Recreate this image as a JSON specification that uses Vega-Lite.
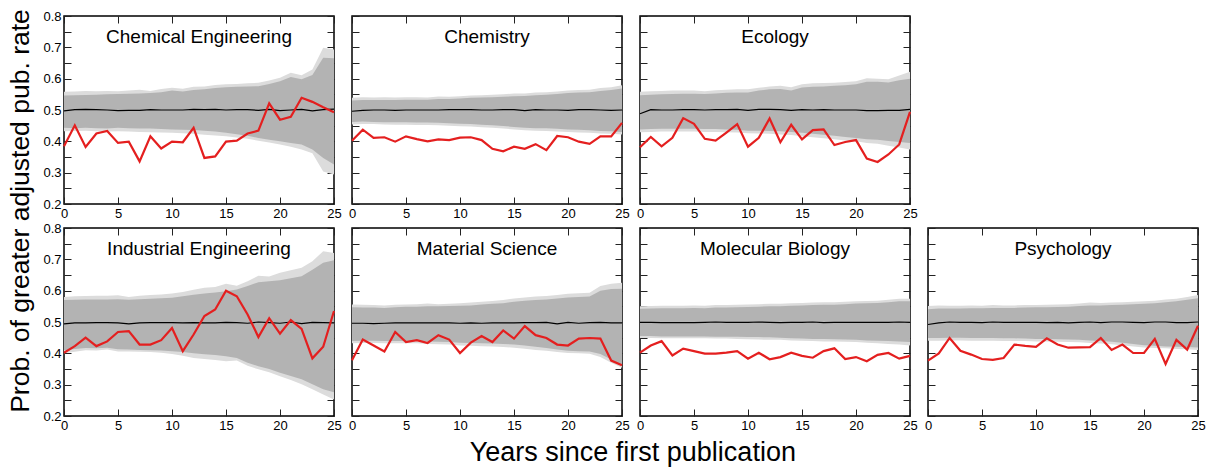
{
"$schema": "https://vega.github.io/schema/vega-lite/v6.json",
"padding": {"left": 7, "top": 9, "right": 5, "bottom": 5},
"data": {"name": "d"},
"datasets": {"d": [
{"field":"CE","year":0,"obs":0.384,"mean":0.497,"lo2":0.432,"lo1":0.443,"hi1":0.546,"hi2":0.558},
{"field":"CE","year":1,"obs":0.451,"mean":0.501,"lo2":0.433,"lo1":0.442,"hi1":0.547,"hi2":0.559},
{"field":"CE","year":2,"obs":0.382,"mean":0.502,"lo2":0.434,"lo1":0.443,"hi1":0.548,"hi2":0.561},
{"field":"CE","year":3,"obs":0.425,"mean":0.501,"lo2":0.432,"lo1":0.442,"hi1":0.549,"hi2":0.560},
{"field":"CE","year":4,"obs":0.433,"mean":0.500,"lo2":0.431,"lo1":0.441,"hi1":0.550,"hi2":0.561},
{"field":"CE","year":5,"obs":0.395,"mean":0.498,"lo2":0.432,"lo1":0.443,"hi1":0.551,"hi2":0.560},
{"field":"CE","year":6,"obs":0.399,"mean":0.499,"lo2":0.431,"lo1":0.442,"hi1":0.552,"hi2":0.562},
{"field":"CE","year":7,"obs":0.336,"mean":0.499,"lo2":0.430,"lo1":0.441,"hi1":0.553,"hi2":0.565},
{"field":"CE","year":8,"obs":0.416,"mean":0.501,"lo2":0.429,"lo1":0.441,"hi1":0.554,"hi2":0.561},
{"field":"CE","year":9,"obs":0.377,"mean":0.500,"lo2":0.428,"lo1":0.439,"hi1":0.557,"hi2":0.567},
{"field":"CE","year":10,"obs":0.399,"mean":0.500,"lo2":0.427,"lo1":0.438,"hi1":0.562,"hi2":0.571},
{"field":"CE","year":11,"obs":0.397,"mean":0.500,"lo2":0.426,"lo1":0.437,"hi1":0.559,"hi2":0.568},
{"field":"CE","year":12,"obs":0.443,"mean":0.502,"lo2":0.424,"lo1":0.436,"hi1":0.564,"hi2":0.574},
{"field":"CE","year":13,"obs":0.347,"mean":0.501,"lo2":0.421,"lo1":0.434,"hi1":0.566,"hi2":0.575},
{"field":"CE","year":14,"obs":0.352,"mean":0.502,"lo2":0.419,"lo1":0.431,"hi1":0.570,"hi2":0.580},
{"field":"CE","year":15,"obs":0.399,"mean":0.500,"lo2":0.416,"lo1":0.427,"hi1":0.573,"hi2":0.582},
{"field":"CE","year":16,"obs":0.402,"mean":0.501,"lo2":0.412,"lo1":0.423,"hi1":0.574,"hi2":0.583},
{"field":"CE","year":17,"obs":0.425,"mean":0.501,"lo2":0.408,"lo1":0.418,"hi1":0.575,"hi2":0.585},
{"field":"CE","year":18,"obs":0.434,"mean":0.499,"lo2":0.402,"lo1":0.411,"hi1":0.576,"hi2":0.587},
{"field":"CE","year":19,"obs":0.521,"mean":0.502,"lo2":0.396,"lo1":0.405,"hi1":0.583,"hi2":0.594},
{"field":"CE","year":20,"obs":0.469,"mean":0.498,"lo2":0.390,"lo1":0.400,"hi1":0.592,"hi2":0.603},
{"field":"CE","year":21,"obs":0.478,"mean":0.500,"lo2":0.383,"lo1":0.395,"hi1":0.605,"hi2":0.619},
{"field":"CE","year":22,"obs":0.539,"mean":0.502,"lo2":0.374,"lo1":0.390,"hi1":0.598,"hi2":0.611},
{"field":"CE","year":23,"obs":0.526,"mean":0.497,"lo2":0.362,"lo1":0.374,"hi1":0.612,"hi2":0.629},
{"field":"CE","year":24,"obs":0.509,"mean":0.501,"lo2":0.304,"lo1":0.347,"hi1":0.667,"hi2":0.699},
{"field":"CE","year":25,"obs":0.493,"mean":0.503,"lo2":0.294,"lo1":0.326,"hi1":0.665,"hi2":0.693},
{"field":"CH","year":0,"obs":0.402,"mean":0.496,"lo2":0.454,"lo1":0.462,"hi1":0.530,"hi2":0.539},
{"field":"CH","year":1,"obs":0.437,"mean":0.499,"lo2":0.455,"lo1":0.463,"hi1":0.532,"hi2":0.541},
{"field":"CH","year":2,"obs":0.411,"mean":0.500,"lo2":0.455,"lo1":0.462,"hi1":0.532,"hi2":0.540},
{"field":"CH","year":3,"obs":0.413,"mean":0.500,"lo2":0.454,"lo1":0.461,"hi1":0.532,"hi2":0.541},
{"field":"CH","year":4,"obs":0.399,"mean":0.499,"lo2":0.453,"lo1":0.461,"hi1":0.532,"hi2":0.540},
{"field":"CH","year":5,"obs":0.416,"mean":0.500,"lo2":0.453,"lo1":0.461,"hi1":0.533,"hi2":0.541},
{"field":"CH","year":6,"obs":0.407,"mean":0.500,"lo2":0.452,"lo1":0.460,"hi1":0.533,"hi2":0.541},
{"field":"CH","year":7,"obs":0.400,"mean":0.500,"lo2":0.452,"lo1":0.460,"hi1":0.533,"hi2":0.540},
{"field":"CH","year":8,"obs":0.406,"mean":0.500,"lo2":0.451,"lo1":0.459,"hi1":0.535,"hi2":0.543},
{"field":"CH","year":9,"obs":0.404,"mean":0.501,"lo2":0.450,"lo1":0.458,"hi1":0.535,"hi2":0.542},
{"field":"CH","year":10,"obs":0.412,"mean":0.501,"lo2":0.448,"lo1":0.456,"hi1":0.537,"hi2":0.544},
{"field":"CH","year":11,"obs":0.413,"mean":0.501,"lo2":0.447,"lo1":0.455,"hi1":0.539,"hi2":0.546},
{"field":"CH","year":12,"obs":0.404,"mean":0.500,"lo2":0.445,"lo1":0.453,"hi1":0.540,"hi2":0.547},
{"field":"CH","year":13,"obs":0.376,"mean":0.500,"lo2":0.443,"lo1":0.451,"hi1":0.541,"hi2":0.549},
{"field":"CH","year":14,"obs":0.368,"mean":0.501,"lo2":0.441,"lo1":0.449,"hi1":0.542,"hi2":0.550},
{"field":"CH","year":15,"obs":0.383,"mean":0.501,"lo2":0.438,"lo1":0.446,"hi1":0.544,"hi2":0.553},
{"field":"CH","year":16,"obs":0.376,"mean":0.498,"lo2":0.435,"lo1":0.443,"hi1":0.545,"hi2":0.553},
{"field":"CH","year":17,"obs":0.391,"mean":0.501,"lo2":0.434,"lo1":0.442,"hi1":0.547,"hi2":0.556},
{"field":"CH","year":18,"obs":0.372,"mean":0.500,"lo2":0.433,"lo1":0.442,"hi1":0.549,"hi2":0.557},
{"field":"CH","year":19,"obs":0.417,"mean":0.500,"lo2":0.431,"lo1":0.440,"hi1":0.551,"hi2":0.559},
{"field":"CH","year":20,"obs":0.413,"mean":0.499,"lo2":0.430,"lo1":0.438,"hi1":0.554,"hi2":0.562},
{"field":"CH","year":21,"obs":0.399,"mean":0.501,"lo2":0.428,"lo1":0.437,"hi1":0.556,"hi2":0.564},
{"field":"CH","year":22,"obs":0.392,"mean":0.501,"lo2":0.427,"lo1":0.435,"hi1":0.557,"hi2":0.565},
{"field":"CH","year":23,"obs":0.416,"mean":0.500,"lo2":0.425,"lo1":0.433,"hi1":0.561,"hi2":0.570},
{"field":"CH","year":24,"obs":0.416,"mean":0.499,"lo2":0.424,"lo1":0.432,"hi1":0.564,"hi2":0.573},
{"field":"CH","year":25,"obs":0.459,"mean":0.500,"lo2":0.422,"lo1":0.430,"hi1":0.569,"hi2":0.579},
{"field":"EC","year":0,"obs":0.381,"mean":0.488,"lo2":0.429,"lo1":0.438,"hi1":0.547,"hi2":0.558},
{"field":"EC","year":1,"obs":0.414,"mean":0.501,"lo2":0.430,"lo1":0.439,"hi1":0.549,"hi2":0.560},
{"field":"EC","year":2,"obs":0.384,"mean":0.500,"lo2":0.431,"lo1":0.440,"hi1":0.550,"hi2":0.561},
{"field":"EC","year":3,"obs":0.411,"mean":0.500,"lo2":0.431,"lo1":0.440,"hi1":0.551,"hi2":0.562},
{"field":"EC","year":4,"obs":0.474,"mean":0.501,"lo2":0.431,"lo1":0.440,"hi1":0.552,"hi2":0.562},
{"field":"EC","year":5,"obs":0.456,"mean":0.501,"lo2":0.431,"lo1":0.440,"hi1":0.552,"hi2":0.562},
{"field":"EC","year":6,"obs":0.408,"mean":0.500,"lo2":0.430,"lo1":0.439,"hi1":0.551,"hi2":0.560},
{"field":"EC","year":7,"obs":0.402,"mean":0.501,"lo2":0.430,"lo1":0.439,"hi1":0.553,"hi2":0.563},
{"field":"EC","year":8,"obs":0.428,"mean":0.501,"lo2":0.429,"lo1":0.438,"hi1":0.555,"hi2":0.565},
{"field":"EC","year":9,"obs":0.455,"mean":0.502,"lo2":0.428,"lo1":0.437,"hi1":0.556,"hi2":0.566},
{"field":"EC","year":10,"obs":0.383,"mean":0.499,"lo2":0.426,"lo1":0.434,"hi1":0.556,"hi2":0.566},
{"field":"EC","year":11,"obs":0.411,"mean":0.502,"lo2":0.425,"lo1":0.434,"hi1":0.562,"hi2":0.571},
{"field":"EC","year":12,"obs":0.473,"mean":0.502,"lo2":0.424,"lo1":0.433,"hi1":0.566,"hi2":0.575},
{"field":"EC","year":13,"obs":0.397,"mean":0.501,"lo2":0.422,"lo1":0.432,"hi1":0.567,"hi2":0.577},
{"field":"EC","year":14,"obs":0.453,"mean":0.499,"lo2":0.420,"lo1":0.430,"hi1":0.562,"hi2":0.573},
{"field":"EC","year":15,"obs":0.406,"mean":0.501,"lo2":0.416,"lo1":0.427,"hi1":0.572,"hi2":0.582},
{"field":"EC","year":16,"obs":0.436,"mean":0.500,"lo2":0.413,"lo1":0.424,"hi1":0.574,"hi2":0.585},
{"field":"EC","year":17,"obs":0.438,"mean":0.501,"lo2":0.410,"lo1":0.421,"hi1":0.575,"hi2":0.586},
{"field":"EC","year":18,"obs":0.388,"mean":0.500,"lo2":0.407,"lo1":0.418,"hi1":0.577,"hi2":0.587},
{"field":"EC","year":19,"obs":0.398,"mean":0.500,"lo2":0.403,"lo1":0.414,"hi1":0.579,"hi2":0.589},
{"field":"EC","year":20,"obs":0.404,"mean":0.500,"lo2":0.400,"lo1":0.411,"hi1":0.582,"hi2":0.592},
{"field":"EC","year":21,"obs":0.345,"mean":0.498,"lo2":0.395,"lo1":0.407,"hi1":0.590,"hi2":0.601},
{"field":"EC","year":22,"obs":0.334,"mean":0.498,"lo2":0.392,"lo1":0.405,"hi1":0.590,"hi2":0.600},
{"field":"EC","year":23,"obs":0.358,"mean":0.499,"lo2":0.386,"lo1":0.401,"hi1":0.588,"hi2":0.598},
{"field":"EC","year":24,"obs":0.390,"mean":0.499,"lo2":0.380,"lo1":0.398,"hi1":0.595,"hi2":0.610},
{"field":"EC","year":25,"obs":0.494,"mean":0.502,"lo2":0.374,"lo1":0.395,"hi1":0.600,"hi2":0.622},
{"field":"IE","year":0,"obs":0.402,"mean":0.494,"lo2":0.400,"lo1":0.410,"hi1":0.570,"hi2":0.580},
{"field":"IE","year":1,"obs":0.423,"mean":0.497,"lo2":0.405,"lo1":0.414,"hi1":0.571,"hi2":0.582},
{"field":"IE","year":2,"obs":0.450,"mean":0.497,"lo2":0.410,"lo1":0.417,"hi1":0.572,"hi2":0.583},
{"field":"IE","year":3,"obs":0.423,"mean":0.498,"lo2":0.409,"lo1":0.416,"hi1":0.572,"hi2":0.584},
{"field":"IE","year":4,"obs":0.438,"mean":0.498,"lo2":0.412,"lo1":0.418,"hi1":0.572,"hi2":0.584},
{"field":"IE","year":5,"obs":0.468,"mean":0.497,"lo2":0.406,"lo1":0.413,"hi1":0.573,"hi2":0.585},
{"field":"IE","year":6,"obs":0.471,"mean":0.494,"lo2":0.406,"lo1":0.412,"hi1":0.571,"hi2":0.580},
{"field":"IE","year":7,"obs":0.428,"mean":0.497,"lo2":0.405,"lo1":0.411,"hi1":0.573,"hi2":0.584},
{"field":"IE","year":8,"obs":0.428,"mean":0.498,"lo2":0.404,"lo1":0.410,"hi1":0.574,"hi2":0.586},
{"field":"IE","year":9,"obs":0.442,"mean":0.498,"lo2":0.402,"lo1":0.409,"hi1":0.576,"hi2":0.588},
{"field":"IE","year":10,"obs":0.481,"mean":0.498,"lo2":0.398,"lo1":0.407,"hi1":0.577,"hi2":0.591},
{"field":"IE","year":11,"obs":0.407,"mean":0.497,"lo2":0.392,"lo1":0.404,"hi1":0.582,"hi2":0.596},
{"field":"IE","year":12,"obs":0.460,"mean":0.498,"lo2":0.385,"lo1":0.400,"hi1":0.587,"hi2":0.603},
{"field":"IE","year":13,"obs":0.519,"mean":0.497,"lo2":0.382,"lo1":0.397,"hi1":0.591,"hi2":0.609},
{"field":"IE","year":14,"obs":0.540,"mean":0.497,"lo2":0.379,"lo1":0.395,"hi1":0.594,"hi2":0.612},
{"field":"IE","year":15,"obs":0.600,"mean":0.499,"lo2":0.375,"lo1":0.391,"hi1":0.598,"hi2":0.622},
{"field":"IE","year":16,"obs":0.582,"mean":0.498,"lo2":0.377,"lo1":0.385,"hi1":0.604,"hi2":0.616},
{"field":"IE","year":17,"obs":0.524,"mean":0.496,"lo2":0.360,"lo1":0.370,"hi1":0.615,"hi2":0.630},
{"field":"IE","year":18,"obs":0.452,"mean":0.500,"lo2":0.349,"lo1":0.359,"hi1":0.627,"hi2":0.648},
{"field":"IE","year":19,"obs":0.512,"mean":0.498,"lo2":0.340,"lo1":0.350,"hi1":0.630,"hi2":0.645},
{"field":"IE","year":20,"obs":0.463,"mean":0.496,"lo2":0.327,"lo1":0.338,"hi1":0.633,"hi2":0.657},
{"field":"IE","year":21,"obs":0.506,"mean":0.500,"lo2":0.315,"lo1":0.328,"hi1":0.640,"hi2":0.665},
{"field":"IE","year":22,"obs":0.478,"mean":0.495,"lo2":0.301,"lo1":0.317,"hi1":0.646,"hi2":0.673},
{"field":"IE","year":23,"obs":0.384,"mean":0.499,"lo2":0.285,"lo1":0.301,"hi1":0.667,"hi2":0.694},
{"field":"IE","year":24,"obs":0.421,"mean":0.498,"lo2":0.269,"lo1":0.285,"hi1":0.689,"hi2":0.726},
{"field":"IE","year":25,"obs":0.535,"mean":0.497,"lo2":0.253,"lo1":0.276,"hi1":0.697,"hi2":0.720},
{"field":"MS","year":0,"obs":0.378,"mean":0.496,"lo2":0.432,"lo1":0.439,"hi1":0.547,"hi2":0.556},
{"field":"MS","year":1,"obs":0.444,"mean":0.496,"lo2":0.433,"lo1":0.440,"hi1":0.546,"hi2":0.555},
{"field":"MS","year":2,"obs":0.425,"mean":0.495,"lo2":0.433,"lo1":0.440,"hi1":0.546,"hi2":0.554},
{"field":"MS","year":3,"obs":0.406,"mean":0.496,"lo2":0.432,"lo1":0.439,"hi1":0.545,"hi2":0.553},
{"field":"MS","year":4,"obs":0.468,"mean":0.497,"lo2":0.432,"lo1":0.439,"hi1":0.547,"hi2":0.555},
{"field":"MS","year":5,"obs":0.436,"mean":0.497,"lo2":0.432,"lo1":0.439,"hi1":0.549,"hi2":0.556},
{"field":"MS","year":6,"obs":0.442,"mean":0.497,"lo2":0.432,"lo1":0.439,"hi1":0.549,"hi2":0.557},
{"field":"MS","year":7,"obs":0.433,"mean":0.497,"lo2":0.430,"lo1":0.438,"hi1":0.550,"hi2":0.559},
{"field":"MS","year":8,"obs":0.458,"mean":0.497,"lo2":0.429,"lo1":0.437,"hi1":0.550,"hi2":0.557},
{"field":"MS","year":9,"obs":0.444,"mean":0.497,"lo2":0.428,"lo1":0.436,"hi1":0.551,"hi2":0.558},
{"field":"MS","year":10,"obs":0.401,"mean":0.496,"lo2":0.425,"lo1":0.434,"hi1":0.552,"hi2":0.560},
{"field":"MS","year":11,"obs":0.434,"mean":0.497,"lo2":0.424,"lo1":0.433,"hi1":0.553,"hi2":0.562},
{"field":"MS","year":12,"obs":0.455,"mean":0.496,"lo2":0.423,"lo1":0.432,"hi1":0.556,"hi2":0.565},
{"field":"MS","year":13,"obs":0.436,"mean":0.497,"lo2":0.422,"lo1":0.431,"hi1":0.558,"hi2":0.567},
{"field":"MS","year":14,"obs":0.473,"mean":0.497,"lo2":0.420,"lo1":0.430,"hi1":0.560,"hi2":0.570},
{"field":"MS","year":15,"obs":0.447,"mean":0.497,"lo2":0.418,"lo1":0.428,"hi1":0.565,"hi2":0.575},
{"field":"MS","year":16,"obs":0.487,"mean":0.498,"lo2":0.415,"lo1":0.425,"hi1":0.568,"hi2":0.578},
{"field":"MS","year":17,"obs":0.458,"mean":0.498,"lo2":0.411,"lo1":0.421,"hi1":0.570,"hi2":0.581},
{"field":"MS","year":18,"obs":0.449,"mean":0.499,"lo2":0.408,"lo1":0.417,"hi1":0.572,"hi2":0.583},
{"field":"MS","year":19,"obs":0.428,"mean":0.494,"lo2":0.404,"lo1":0.412,"hi1":0.575,"hi2":0.586},
{"field":"MS","year":20,"obs":0.425,"mean":0.499,"lo2":0.401,"lo1":0.408,"hi1":0.578,"hi2":0.590},
{"field":"MS","year":21,"obs":0.447,"mean":0.496,"lo2":0.400,"lo1":0.407,"hi1":0.580,"hi2":0.592},
{"field":"MS","year":22,"obs":0.449,"mean":0.498,"lo2":0.399,"lo1":0.406,"hi1":0.581,"hi2":0.593},
{"field":"MS","year":23,"obs":0.447,"mean":0.499,"lo2":0.388,"lo1":0.398,"hi1":0.600,"hi2":0.615},
{"field":"MS","year":24,"obs":0.377,"mean":0.497,"lo2":0.370,"lo1":0.380,"hi1":0.605,"hi2":0.622},
{"field":"MS","year":25,"obs":0.362,"mean":0.497,"lo2":0.354,"lo1":0.359,"hi1":0.606,"hi2":0.625},
{"field":"MB","year":0,"obs":0.402,"mean":0.499,"lo2":0.449,"lo1":0.455,"hi1":0.542,"hi2":0.550},
{"field":"MB","year":1,"obs":0.425,"mean":0.499,"lo2":0.449,"lo1":0.455,"hi1":0.543,"hi2":0.551},
{"field":"MB","year":2,"obs":0.439,"mean":0.498,"lo2":0.448,"lo1":0.454,"hi1":0.544,"hi2":0.552},
{"field":"MB","year":3,"obs":0.393,"mean":0.498,"lo2":0.448,"lo1":0.454,"hi1":0.544,"hi2":0.552},
{"field":"MB","year":4,"obs":0.415,"mean":0.498,"lo2":0.448,"lo1":0.454,"hi1":0.544,"hi2":0.552},
{"field":"MB","year":5,"obs":0.407,"mean":0.498,"lo2":0.448,"lo1":0.454,"hi1":0.545,"hi2":0.553},
{"field":"MB","year":6,"obs":0.399,"mean":0.499,"lo2":0.448,"lo1":0.454,"hi1":0.544,"hi2":0.552},
{"field":"MB","year":7,"obs":0.399,"mean":0.500,"lo2":0.447,"lo1":0.453,"hi1":0.546,"hi2":0.554},
{"field":"MB","year":8,"obs":0.402,"mean":0.499,"lo2":0.447,"lo1":0.453,"hi1":0.546,"hi2":0.554},
{"field":"MB","year":9,"obs":0.407,"mean":0.499,"lo2":0.446,"lo1":0.453,"hi1":0.547,"hi2":0.555},
{"field":"MB","year":10,"obs":0.383,"mean":0.499,"lo2":0.445,"lo1":0.452,"hi1":0.548,"hi2":0.556},
{"field":"MB","year":11,"obs":0.402,"mean":0.500,"lo2":0.444,"lo1":0.452,"hi1":0.549,"hi2":0.557},
{"field":"MB","year":12,"obs":0.381,"mean":0.499,"lo2":0.443,"lo1":0.451,"hi1":0.550,"hi2":0.558},
{"field":"MB","year":13,"obs":0.388,"mean":0.498,"lo2":0.443,"lo1":0.450,"hi1":0.550,"hi2":0.558},
{"field":"MB","year":14,"obs":0.402,"mean":0.499,"lo2":0.441,"lo1":0.448,"hi1":0.552,"hi2":0.560},
{"field":"MB","year":15,"obs":0.392,"mean":0.499,"lo2":0.440,"lo1":0.447,"hi1":0.553,"hi2":0.561},
{"field":"MB","year":16,"obs":0.386,"mean":0.500,"lo2":0.439,"lo1":0.446,"hi1":0.554,"hi2":0.562},
{"field":"MB","year":17,"obs":0.407,"mean":0.498,"lo2":0.438,"lo1":0.446,"hi1":0.555,"hi2":0.563},
{"field":"MB","year":18,"obs":0.416,"mean":0.499,"lo2":0.438,"lo1":0.445,"hi1":0.555,"hi2":0.563},
{"field":"MB","year":19,"obs":0.382,"mean":0.499,"lo2":0.437,"lo1":0.444,"hi1":0.557,"hi2":0.565},
{"field":"MB","year":20,"obs":0.388,"mean":0.499,"lo2":0.436,"lo1":0.443,"hi1":0.559,"hi2":0.566},
{"field":"MB","year":21,"obs":0.375,"mean":0.499,"lo2":0.434,"lo1":0.441,"hi1":0.560,"hi2":0.567},
{"field":"MB","year":22,"obs":0.395,"mean":0.499,"lo2":0.432,"lo1":0.440,"hi1":0.561,"hi2":0.568},
{"field":"MB","year":23,"obs":0.401,"mean":0.499,"lo2":0.430,"lo1":0.439,"hi1":0.563,"hi2":0.571},
{"field":"MB","year":24,"obs":0.383,"mean":0.500,"lo2":0.428,"lo1":0.438,"hi1":0.566,"hi2":0.574},
{"field":"MB","year":25,"obs":0.392,"mean":0.499,"lo2":0.425,"lo1":0.436,"hi1":0.566,"hi2":0.574},
{"field":"PS","year":0,"obs":0.377,"mean":0.492,"lo2":0.440,"lo1":0.449,"hi1":0.541,"hi2":0.551},
{"field":"PS","year":1,"obs":0.400,"mean":0.497,"lo2":0.440,"lo1":0.449,"hi1":0.543,"hi2":0.553},
{"field":"PS","year":2,"obs":0.449,"mean":0.500,"lo2":0.441,"lo1":0.450,"hi1":0.543,"hi2":0.552},
{"field":"PS","year":3,"obs":0.408,"mean":0.499,"lo2":0.441,"lo1":0.450,"hi1":0.543,"hi2":0.552},
{"field":"PS","year":4,"obs":0.396,"mean":0.499,"lo2":0.440,"lo1":0.449,"hi1":0.544,"hi2":0.553},
{"field":"PS","year":5,"obs":0.382,"mean":0.498,"lo2":0.440,"lo1":0.449,"hi1":0.544,"hi2":0.552},
{"field":"PS","year":6,"obs":0.379,"mean":0.500,"lo2":0.440,"lo1":0.449,"hi1":0.545,"hi2":0.554},
{"field":"PS","year":7,"obs":0.385,"mean":0.499,"lo2":0.439,"lo1":0.448,"hi1":0.545,"hi2":0.553},
{"field":"PS","year":8,"obs":0.428,"mean":0.499,"lo2":0.439,"lo1":0.448,"hi1":0.545,"hi2":0.553},
{"field":"PS","year":9,"obs":0.424,"mean":0.499,"lo2":0.439,"lo1":0.447,"hi1":0.546,"hi2":0.554},
{"field":"PS","year":10,"obs":0.421,"mean":0.499,"lo2":0.438,"lo1":0.446,"hi1":0.547,"hi2":0.554},
{"field":"PS","year":11,"obs":0.448,"mean":0.498,"lo2":0.438,"lo1":0.446,"hi1":0.547,"hi2":0.555},
{"field":"PS","year":12,"obs":0.428,"mean":0.499,"lo2":0.437,"lo1":0.445,"hi1":0.548,"hi2":0.556},
{"field":"PS","year":13,"obs":0.418,"mean":0.497,"lo2":0.436,"lo1":0.444,"hi1":0.549,"hi2":0.557},
{"field":"PS","year":14,"obs":0.419,"mean":0.499,"lo2":0.435,"lo1":0.443,"hi1":0.551,"hi2":0.559},
{"field":"PS","year":15,"obs":0.420,"mean":0.500,"lo2":0.433,"lo1":0.441,"hi1":0.553,"hi2":0.562},
{"field":"PS","year":16,"obs":0.449,"mean":0.498,"lo2":0.431,"lo1":0.439,"hi1":0.553,"hi2":0.561},
{"field":"PS","year":17,"obs":0.411,"mean":0.500,"lo2":0.429,"lo1":0.437,"hi1":0.554,"hi2":0.562},
{"field":"PS","year":18,"obs":0.428,"mean":0.500,"lo2":0.426,"lo1":0.434,"hi1":0.555,"hi2":0.563},
{"field":"PS","year":19,"obs":0.401,"mean":0.499,"lo2":0.422,"lo1":0.430,"hi1":0.557,"hi2":0.565},
{"field":"PS","year":20,"obs":0.401,"mean":0.498,"lo2":0.419,"lo1":0.426,"hi1":0.558,"hi2":0.566},
{"field":"PS","year":21,"obs":0.446,"mean":0.500,"lo2":0.417,"lo1":0.424,"hi1":0.560,"hi2":0.568},
{"field":"PS","year":22,"obs":0.366,"mean":0.500,"lo2":0.416,"lo1":0.422,"hi1":0.563,"hi2":0.572},
{"field":"PS","year":23,"obs":0.443,"mean":0.498,"lo2":0.414,"lo1":0.421,"hi1":0.566,"hi2":0.574},
{"field":"PS","year":24,"obs":0.412,"mean":0.498,"lo2":0.413,"lo1":0.420,"hi1":0.571,"hi2":0.580},
{"field":"PS","year":25,"obs":0.488,"mean":0.500,"lo2":0.411,"lo1":0.419,"hi1":0.576,"hi2":0.586}
]},
"title": {"text": "Years since first publication", "orient": "bottom", "anchor": "middle", "frame": "bounds", "fontSize": 27, "font": "Liberation Sans", "fontWeight": "normal", "color": "black", "offset": 7, "dx": 26, "baseline": "top"},
"vconcat": [{
  "title": {"text": "Prob. of greater adjusted pub. rate", "orient": "left", "anchor": "middle", "frame": "bounds", "fontSize": 26.5, "font": "Liberation Sans", "fontWeight": "normal", "color": "black", "offset": -19, "dx": 10, "baseline": "bottom"},
  "spacing": 0,
  "vconcat": [
    {"spacing": 18, "bounds": "flush", "hconcat": [
      {"width": 270, "height": 188, "title": {"text": "Chemical Engineering", "offset": -37},
       "transform": [{"filter": {"field": "field", "equal": "CE"}}],
       "layer": [
        {"mark": {"type": "area", "color": "#dcdcdc"}, "encoding": {
          "x": {"field": "year", "type": "quantitative", "scale": {"domain": [0, 25], "nice": false}, "axis": {"orient": "bottom", "values": [0,5,10,15,20,25], "title": null}},
          "y": {"field": "lo2", "type": "quantitative", "scale": {"domain": [0.2, 0.8], "nice": false}, "axis": {"orient": "left", "values": [0.2,0.25,0.3,0.35,0.4,0.45,0.5,0.55,0.6,0.65,0.7,0.75,0.8], "labelExpr": "abs(datum.value*10 - round(datum.value*10)) < 0.01 ? format(datum.value, '.1f') : ''", "title": null}},
          "y2": {"field": "hi2"}}},
        {"mark": {"type": "area", "color": "#b3b3b3"}, "encoding": {
          "x": {"field": "year", "type": "quantitative", "scale": {"domain": [0, 25], "nice": false}, "axis": null},
          "y": {"field": "lo1", "type": "quantitative", "scale": {"domain": [0.2, 0.8], "nice": false}, "axis": null},
          "y2": {"field": "hi1"}}},
        {"mark": {"type": "line", "color": "black", "strokeWidth": 1.2}, "encoding": {
          "x": {"field": "year", "type": "quantitative", "scale": {"domain": [0, 25], "nice": false}, "axis": null},
          "y": {"field": "mean", "type": "quantitative", "scale": {"domain": [0.2, 0.8], "nice": false}, "axis": null}}},
        {"mark": {"type": "line", "color": "#e41f1f", "strokeWidth": 2.2}, "encoding": {
          "x": {"field": "year", "type": "quantitative", "scale": {"domain": [0, 25], "nice": false}, "axis": {"orient": "top", "values": [0,5,10,15,20,25], "labels": false, "title": null}},
          "y": {"field": "obs", "type": "quantitative", "scale": {"domain": [0.2, 0.8], "nice": false}, "axis": {"orient": "right", "values": [0.2,0.25,0.3,0.35,0.4,0.45,0.5,0.55,0.6,0.65,0.7,0.75,0.8], "labels": false, "title": null}}}}
       ],
       "resolve": {"axis": {"x": "independent", "y": "independent"}}},
      {"width": 270, "height": 188, "title": {"text": "Chemistry"},
       "transform": [{"filter": {"field": "field", "equal": "CH"}}],
       "layer": [
        {"mark": {"type": "area", "color": "#dcdcdc"}, "encoding": {
          "x": {"field": "year", "type": "quantitative", "scale": {"domain": [0, 25], "nice": false}, "axis": {"orient": "bottom", "values": [0,5,10,15,20,25], "title": null}},
          "y": {"field": "lo2", "type": "quantitative", "scale": {"domain": [0.2, 0.8], "nice": false}, "axis": {"orient": "left", "values": [0.2,0.25,0.3,0.35,0.4,0.45,0.5,0.55,0.6,0.65,0.7,0.75,0.8], "labels": false, "title": null}},
          "y2": {"field": "hi2"}}},
        {"mark": {"type": "area", "color": "#b3b3b3"}, "encoding": {
          "x": {"field": "year", "type": "quantitative", "scale": {"domain": [0, 25], "nice": false}, "axis": null},
          "y": {"field": "lo1", "type": "quantitative", "scale": {"domain": [0.2, 0.8], "nice": false}, "axis": null},
          "y2": {"field": "hi1"}}},
        {"mark": {"type": "line", "color": "black", "strokeWidth": 1.2}, "encoding": {
          "x": {"field": "year", "type": "quantitative", "scale": {"domain": [0, 25], "nice": false}, "axis": null},
          "y": {"field": "mean", "type": "quantitative", "scale": {"domain": [0.2, 0.8], "nice": false}, "axis": null}}},
        {"mark": {"type": "line", "color": "#e41f1f", "strokeWidth": 2.2}, "encoding": {
          "x": {"field": "year", "type": "quantitative", "scale": {"domain": [0, 25], "nice": false}, "axis": {"orient": "top", "values": [0,5,10,15,20,25], "labels": false, "title": null}},
          "y": {"field": "obs", "type": "quantitative", "scale": {"domain": [0.2, 0.8], "nice": false}, "axis": {"orient": "right", "values": [0.2,0.25,0.3,0.35,0.4,0.45,0.5,0.55,0.6,0.65,0.7,0.75,0.8], "labels": false, "title": null}}}}
       ],
       "resolve": {"axis": {"x": "independent", "y": "independent"}}},
      {"width": 270, "height": 188, "title": {"text": "Ecology"},
       "transform": [{"filter": {"field": "field", "equal": "EC"}}],
       "layer": [
        {"mark": {"type": "area", "color": "#dcdcdc"}, "encoding": {
          "x": {"field": "year", "type": "quantitative", "scale": {"domain": [0, 25], "nice": false}, "axis": {"orient": "bottom", "values": [0,5,10,15,20,25], "title": null}},
          "y": {"field": "lo2", "type": "quantitative", "scale": {"domain": [0.2, 0.8], "nice": false}, "axis": {"orient": "left", "values": [0.2,0.25,0.3,0.35,0.4,0.45,0.5,0.55,0.6,0.65,0.7,0.75,0.8], "labels": false, "title": null}},
          "y2": {"field": "hi2"}}},
        {"mark": {"type": "area", "color": "#b3b3b3"}, "encoding": {
          "x": {"field": "year", "type": "quantitative", "scale": {"domain": [0, 25], "nice": false}, "axis": null},
          "y": {"field": "lo1", "type": "quantitative", "scale": {"domain": [0.2, 0.8], "nice": false}, "axis": null},
          "y2": {"field": "hi1"}}},
        {"mark": {"type": "line", "color": "black", "strokeWidth": 1.2}, "encoding": {
          "x": {"field": "year", "type": "quantitative", "scale": {"domain": [0, 25], "nice": false}, "axis": null},
          "y": {"field": "mean", "type": "quantitative", "scale": {"domain": [0.2, 0.8], "nice": false}, "axis": null}}},
        {"mark": {"type": "line", "color": "#e41f1f", "strokeWidth": 2.2}, "encoding": {
          "x": {"field": "year", "type": "quantitative", "scale": {"domain": [0, 25], "nice": false}, "axis": {"orient": "top", "values": [0,5,10,15,20,25], "labels": false, "title": null}},
          "y": {"field": "obs", "type": "quantitative", "scale": {"domain": [0.2, 0.8], "nice": false}, "axis": {"orient": "right", "values": [0.2,0.25,0.3,0.35,0.4,0.45,0.5,0.55,0.6,0.65,0.7,0.75,0.8], "labels": false, "title": null}}}}
       ],
       "resolve": {"axis": {"x": "independent", "y": "independent"}}}
    ]},
    {"spacing": 18, "bounds": "flush", "hconcat": [
      {"width": 270, "height": 188, "title": {"text": "Industrial Engineering", "offset": -37},
       "transform": [{"filter": {"field": "field", "equal": "IE"}}],
       "layer": [
        {"mark": {"type": "area", "color": "#dcdcdc"}, "encoding": {
          "x": {"field": "year", "type": "quantitative", "scale": {"domain": [0, 25], "nice": false}, "axis": {"orient": "bottom", "values": [0,5,10,15,20,25], "title": null}},
          "y": {"field": "lo2", "type": "quantitative", "scale": {"domain": [0.2, 0.8], "nice": false}, "axis": {"orient": "left", "values": [0.2,0.25,0.3,0.35,0.4,0.45,0.5,0.55,0.6,0.65,0.7,0.75,0.8], "labelExpr": "abs(datum.value*10 - round(datum.value*10)) < 0.01 ? format(datum.value, '.1f') : ''", "title": null}},
          "y2": {"field": "hi2"}}},
        {"mark": {"type": "area", "color": "#b3b3b3"}, "encoding": {
          "x": {"field": "year", "type": "quantitative", "scale": {"domain": [0, 25], "nice": false}, "axis": null},
          "y": {"field": "lo1", "type": "quantitative", "scale": {"domain": [0.2, 0.8], "nice": false}, "axis": null},
          "y2": {"field": "hi1"}}},
        {"mark": {"type": "line", "color": "black", "strokeWidth": 1.2}, "encoding": {
          "x": {"field": "year", "type": "quantitative", "scale": {"domain": [0, 25], "nice": false}, "axis": null},
          "y": {"field": "mean", "type": "quantitative", "scale": {"domain": [0.2, 0.8], "nice": false}, "axis": null}}},
        {"mark": {"type": "line", "color": "#e41f1f", "strokeWidth": 2.2}, "encoding": {
          "x": {"field": "year", "type": "quantitative", "scale": {"domain": [0, 25], "nice": false}, "axis": {"orient": "top", "values": [0,5,10,15,20,25], "labels": false, "title": null}},
          "y": {"field": "obs", "type": "quantitative", "scale": {"domain": [0.2, 0.8], "nice": false}, "axis": {"orient": "right", "values": [0.2,0.25,0.3,0.35,0.4,0.45,0.5,0.55,0.6,0.65,0.7,0.75,0.8], "labels": false, "title": null}}}}
       ],
       "resolve": {"axis": {"x": "independent", "y": "independent"}}},
      {"width": 270, "height": 188, "title": {"text": "Material Science"},
       "transform": [{"filter": {"field": "field", "equal": "MS"}}],
       "layer": [
        {"mark": {"type": "area", "color": "#dcdcdc"}, "encoding": {
          "x": {"field": "year", "type": "quantitative", "scale": {"domain": [0, 25], "nice": false}, "axis": {"orient": "bottom", "values": [0,5,10,15,20,25], "title": null}},
          "y": {"field": "lo2", "type": "quantitative", "scale": {"domain": [0.2, 0.8], "nice": false}, "axis": {"orient": "left", "values": [0.2,0.25,0.3,0.35,0.4,0.45,0.5,0.55,0.6,0.65,0.7,0.75,0.8], "labels": false, "title": null}},
          "y2": {"field": "hi2"}}},
        {"mark": {"type": "area", "color": "#b3b3b3"}, "encoding": {
          "x": {"field": "year", "type": "quantitative", "scale": {"domain": [0, 25], "nice": false}, "axis": null},
          "y": {"field": "lo1", "type": "quantitative", "scale": {"domain": [0.2, 0.8], "nice": false}, "axis": null},
          "y2": {"field": "hi1"}}},
        {"mark": {"type": "line", "color": "black", "strokeWidth": 1.2}, "encoding": {
          "x": {"field": "year", "type": "quantitative", "scale": {"domain": [0, 25], "nice": false}, "axis": null},
          "y": {"field": "mean", "type": "quantitative", "scale": {"domain": [0.2, 0.8], "nice": false}, "axis": null}}},
        {"mark": {"type": "line", "color": "#e41f1f", "strokeWidth": 2.2}, "encoding": {
          "x": {"field": "year", "type": "quantitative", "scale": {"domain": [0, 25], "nice": false}, "axis": {"orient": "top", "values": [0,5,10,15,20,25], "labels": false, "title": null}},
          "y": {"field": "obs", "type": "quantitative", "scale": {"domain": [0.2, 0.8], "nice": false}, "axis": {"orient": "right", "values": [0.2,0.25,0.3,0.35,0.4,0.45,0.5,0.55,0.6,0.65,0.7,0.75,0.8], "labels": false, "title": null}}}}
       ],
       "resolve": {"axis": {"x": "independent", "y": "independent"}}},
      {"width": 270, "height": 188, "title": {"text": "Molecular Biology"},
       "transform": [{"filter": {"field": "field", "equal": "MB"}}],
       "layer": [
        {"mark": {"type": "area", "color": "#dcdcdc"}, "encoding": {
          "x": {"field": "year", "type": "quantitative", "scale": {"domain": [0, 25], "nice": false}, "axis": {"orient": "bottom", "values": [0,5,10,15,20,25], "title": null}},
          "y": {"field": "lo2", "type": "quantitative", "scale": {"domain": [0.2, 0.8], "nice": false}, "axis": {"orient": "left", "values": [0.2,0.25,0.3,0.35,0.4,0.45,0.5,0.55,0.6,0.65,0.7,0.75,0.8], "labels": false, "title": null}},
          "y2": {"field": "hi2"}}},
        {"mark": {"type": "area", "color": "#b3b3b3"}, "encoding": {
          "x": {"field": "year", "type": "quantitative", "scale": {"domain": [0, 25], "nice": false}, "axis": null},
          "y": {"field": "lo1", "type": "quantitative", "scale": {"domain": [0.2, 0.8], "nice": false}, "axis": null},
          "y2": {"field": "hi1"}}},
        {"mark": {"type": "line", "color": "black", "strokeWidth": 1.2}, "encoding": {
          "x": {"field": "year", "type": "quantitative", "scale": {"domain": [0, 25], "nice": false}, "axis": null},
          "y": {"field": "mean", "type": "quantitative", "scale": {"domain": [0.2, 0.8], "nice": false}, "axis": null}}},
        {"mark": {"type": "line", "color": "#e41f1f", "strokeWidth": 2.2}, "encoding": {
          "x": {"field": "year", "type": "quantitative", "scale": {"domain": [0, 25], "nice": false}, "axis": {"orient": "top", "values": [0,5,10,15,20,25], "labels": false, "title": null}},
          "y": {"field": "obs", "type": "quantitative", "scale": {"domain": [0.2, 0.8], "nice": false}, "axis": {"orient": "right", "values": [0.2,0.25,0.3,0.35,0.4,0.45,0.5,0.55,0.6,0.65,0.7,0.75,0.8], "labels": false, "title": null}}}}
       ],
       "resolve": {"axis": {"x": "independent", "y": "independent"}}},
      {"width": 270, "height": 188, "title": {"text": "Psychology"},
       "transform": [{"filter": {"field": "field", "equal": "PS"}}],
       "layer": [
        {"mark": {"type": "area", "color": "#dcdcdc"}, "encoding": {
          "x": {"field": "year", "type": "quantitative", "scale": {"domain": [0, 25], "nice": false}, "axis": {"orient": "bottom", "values": [0,5,10,15,20,25], "title": null}},
          "y": {"field": "lo2", "type": "quantitative", "scale": {"domain": [0.2, 0.8], "nice": false}, "axis": {"orient": "left", "values": [0.2,0.25,0.3,0.35,0.4,0.45,0.5,0.55,0.6,0.65,0.7,0.75,0.8], "labels": false, "title": null}},
          "y2": {"field": "hi2"}}},
        {"mark": {"type": "area", "color": "#b3b3b3"}, "encoding": {
          "x": {"field": "year", "type": "quantitative", "scale": {"domain": [0, 25], "nice": false}, "axis": null},
          "y": {"field": "lo1", "type": "quantitative", "scale": {"domain": [0.2, 0.8], "nice": false}, "axis": null},
          "y2": {"field": "hi1"}}},
        {"mark": {"type": "line", "color": "black", "strokeWidth": 1.2}, "encoding": {
          "x": {"field": "year", "type": "quantitative", "scale": {"domain": [0, 25], "nice": false}, "axis": null},
          "y": {"field": "mean", "type": "quantitative", "scale": {"domain": [0.2, 0.8], "nice": false}, "axis": null}}},
        {"mark": {"type": "line", "color": "#e41f1f", "strokeWidth": 2.2}, "encoding": {
          "x": {"field": "year", "type": "quantitative", "scale": {"domain": [0, 25], "nice": false}, "axis": {"orient": "top", "values": [0,5,10,15,20,25], "labels": false, "title": null}},
          "y": {"field": "obs", "type": "quantitative", "scale": {"domain": [0.2, 0.8], "nice": false}, "axis": {"orient": "right", "values": [0.2,0.25,0.3,0.35,0.4,0.45,0.5,0.55,0.6,0.65,0.7,0.75,0.8], "labels": false, "title": null}}}}
       ],
       "resolve": {"axis": {"x": "independent", "y": "independent"}}}
    ]}
  ]
}],
"config": {
  "font": "Liberation Sans",
  "view": {"stroke": "black", "strokeWidth": 1.5},
  "axis": {"domain": false, "grid": false, "tickColor": "#222222", "tickWidth": 1, "tickSize": -7, "labelFont": "Liberation Sans", "labelFontSize": 13, "labelColor": "black", "labelPadding": 10, "labelOverlap": false, "labelFlush": false},
  "title": {"font": "Liberation Sans", "fontSize": 19, "fontWeight": "normal", "color": "black", "anchor": "middle", "frame": "group", "offset": -31, "baseline": "alphabetic"}
}
}
